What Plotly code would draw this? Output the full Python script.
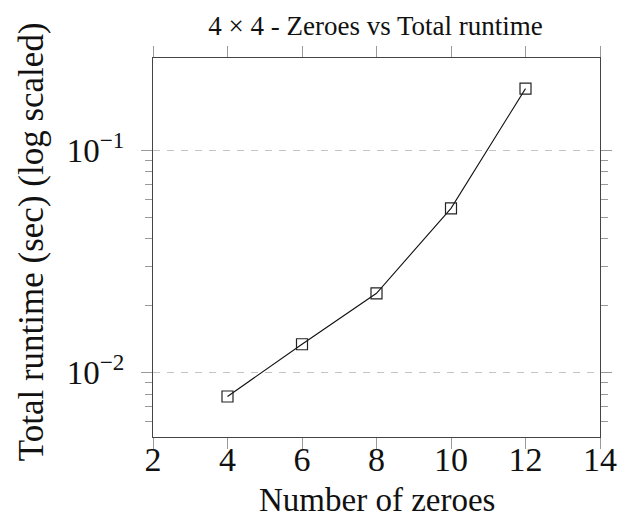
import plotly.graph_objects as go

# Runtime measurements for the 4x4 case
zeroes = [4, 6, 8, 10, 12]
runtime_sec = [0.0078, 0.0134, 0.0227, 0.0547, 0.189]

x_ticks = [2, 4, 6, 8, 10, 12, 14]
y_major = [0.01, 0.1]
y_major_text = ["10<sup>\u22122</sup>", "10<sup>\u22121</sup>"]
y_minor = [0.006, 0.007, 0.008, 0.009,
           0.02, 0.03, 0.04, 0.05, 0.06, 0.07, 0.08, 0.09]

FONT = "Liberation Serif, DejaVu Serif, serif"
AXIS_COLOR = "#444444"
TICK_COLOR = "#9a9a9a"

fig = go.Figure()
fig.add_trace(go.Scatter(
    x=zeroes, y=runtime_sec,
    mode="lines+markers",
    line=dict(color="#111111", width=1.1),
    marker=dict(symbol="square-open", size=11,
                color="#222222", line=dict(width=1.2, color="#222222")),
    showlegend=False,
))

fig.update_layout(
    width=628, height=525,
    margin=dict(l=153, r=28, t=58, b=88),
    paper_bgcolor="white", plot_bgcolor="white",
    font=dict(family=FONT, size=25, color="#111111"),
    title=dict(text="4 \u00d7 4 - Zeroes vs Total runtime",
               x=0.598, xanchor="center", y=0.952, yanchor="middle",
               font=dict(family=FONT, size=27)),
)

# Axis titles placed as annotations for precise positioning
fig.add_annotation(text="Number of zeroes", xref="paper", yref="paper",
                   x=0.5, y=-0.165, xanchor="center", yanchor="middle",
                   showarrow=False, font=dict(family=FONT, size=33))
fig.add_annotation(text="Total runtime (sec) (log scaled)",
                   xref="paper", yref="paper", textangle=-90,
                   x=-0.272, y=0.515, xanchor="center", yanchor="middle",
                   showarrow=False, font=dict(family=FONT, size=35))

fig.update_xaxes(
    range=[2, 14],
    tickmode="array", tickvals=x_ticks,
    ticks="outside", ticklen=11, tickwidth=1, tickcolor=TICK_COLOR,
    showline=True, linecolor=AXIS_COLOR, linewidth=1.3, mirror="ticks",
    showgrid=False, zeroline=False,
    tickfont=dict(family=FONT, size=34),
    ticklabelstandoff=-19,
)

fig.update_yaxes(
    type="log",
    range=[-2.29, -0.586],
    tickmode="array", tickvals=y_major, ticktext=y_major_text,
    ticks="outside", ticklen=11, tickwidth=1, tickcolor=TICK_COLOR,
    showline=True, linecolor=AXIS_COLOR, linewidth=1.3, mirror="ticks",
    showgrid=True, gridcolor="#c4c4c4", gridwidth=1, griddash="7px,7px",
    zeroline=False,
    minor=dict(tickmode="array", tickvals=y_minor, ticks="outside",
               ticklen=7, tickwidth=1, tickcolor=TICK_COLOR, showgrid=False),
    tickfont=dict(family=FONT, size=33),
    ticklabelstandoff=10,
)

fig.write_html("out.html")
